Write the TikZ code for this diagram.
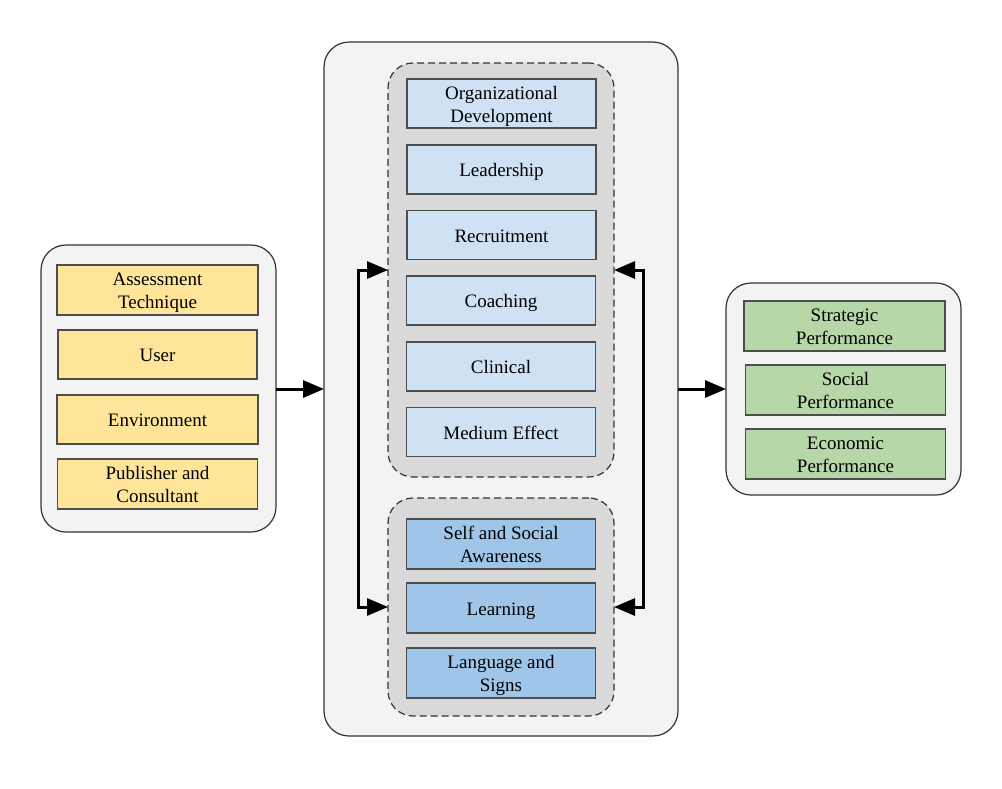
\documentclass[tikz,border=0pt]{standalone}
\usepackage{fontspec}
\setmainfont{Liberation Serif}
\usetikzlibrary{arrows.meta,calc}
\definecolor{outerfill}{HTML}{F3F3F3}
\definecolor{grpfill}{HTML}{D9D9D9}
\definecolor{yel}{HTML}{FFE599}
\definecolor{lblue}{HTML}{CFE2F3}
\definecolor{dblue}{HTML}{9FC5E8}
\definecolor{grn}{HTML}{B6D7A8}
\definecolor{edge}{HTML}{4D4D4D}
\newcommand{\lw}[1]{\raisebox{-2.5pt}[\height][\depth]{\begin{tabular}{@{}c@{}}#1\end{tabular}}}
\tikzset{
  outerbox/.style={draw=black!80, line width=1.2pt, fill=outerfill, rounded corners=25pt, inner sep=0pt, outer sep=0pt},
  grpbox/.style={draw=black!80, line width=1.2pt, dash pattern=on 7pt off 4pt, fill=grpfill, rounded corners=25pt, inner sep=0pt, outer sep=0pt},
  itembox/.style={draw=edge, line width=1.3pt, inner sep=0pt, outer sep=0pt, align=center,
     font=\fontsize{19}{23}\selectfont},
  arr/.style={line width=3pt, -{Triangle[length=21pt,width=17pt]}},
  darr/.style={line width=3pt, {Triangle[length=21pt,width=17pt]}-{Triangle[length=21pt,width=17pt]}},
}
\begin{document}
\begin{tikzpicture}[x=1pt,y=-1pt]
\useasboundingbox (0,0) rectangle (1002,788);
% outer containers
\node[outerbox, minimum width=235pt, minimum height=287pt] (L) at (158.5,388.5) {};
\node[outerbox, minimum width=354pt, minimum height=694pt] (C) at (501,389) {};
\node[outerbox, minimum width=235pt, minimum height=212pt] (R) at (843.5,389) {};
% groups
\node[grpbox, minimum width=226pt, minimum height=414pt] (TG) at (501,270) {};
\node[grpbox, minimum width=226pt, minimum height=218pt] (BG) at (501,607) {};
% left items
\node[itembox, fill=yel, minimum width=201pt, minimum height=50pt] (a1) at (157.5,290) {\lw{Assessment\\Technique}};
\node[itembox, fill=yel, minimum width=199pt, minimum height=49pt] (a2) at (157.5,354.5) {\lw{User}};
\node[itembox, fill=yel, minimum width=201pt, minimum height=49pt] (a3) at (157.5,419.5) {\lw{Environment}};
\node[itembox, fill=yel, minimum width=200pt, minimum height=50pt] (a4) at (157.5,484) {\lw{Publisher and\\Consultant}};
% top group items
\node[itembox, fill=lblue, minimum width=189pt, minimum height=49pt] (b1) at (501.5,103.5) {\lw{Organizational\\Development}};
\node[itembox, fill=lblue, minimum width=189pt, minimum height=49pt] (b2) at (501.5,169.5) {\lw{Leadership}};
\node[itembox, fill=lblue, minimum width=189pt, minimum height=49pt] (b3) at (501.5,235) {\lw{Recruitment}};
\node[itembox, fill=lblue, minimum width=189pt, minimum height=49pt] (b4) at (501,300.5) {\lw{Coaching}};
\node[itembox, fill=lblue, minimum width=189pt, minimum height=49pt] (b5) at (501,366.5) {\lw{Clinical}};
\node[itembox, fill=lblue, minimum width=189pt, minimum height=49pt] (b6) at (501,432) {\lw{Medium Effect}};
% bottom group items
\node[itembox, fill=dblue, minimum width=189pt, minimum height=50pt] (c1) at (501,544) {\lw{Self and Social\\Awareness}};
\node[itembox, fill=dblue, minimum width=189pt, minimum height=50pt] (c2) at (501,608) {\lw{Learning}};
\node[itembox, fill=dblue, minimum width=189pt, minimum height=50pt] (c3) at (501,673) {\lw{Language and\\Signs}};
% right items
\node[itembox, fill=grn, minimum width=201pt, minimum height=50pt] (d1) at (844.5,326) {\lw{Strategic\\Performance}};
\node[itembox, fill=grn, minimum width=200pt, minimum height=50pt] (d2) at (845.5,390) {\lw{Social\\Performance}};
\node[itembox, fill=grn, minimum width=200pt, minimum height=50pt] (d3) at (845.5,454) {\lw{Economic\\Performance}};
% connectors
\draw[arr] (L.east |- 0,389) -- (C.west |- 0,389);
\draw[arr] (C.east |- 0,389) -- (R.west |- 0,389);
\coordinate (lt) at (358,270);
\coordinate (lb) at (358,607);
\coordinate (rt) at (643,270);
\coordinate (rb) at (643,607);
\draw[darr] (TG.west |- lt) -- (lt) -- (lb) -- (BG.west |- lb);
\draw[darr] (TG.east |- rt) -- (rt) -- (rb) -- (BG.east |- rb);
\end{tikzpicture}
\end{document}
